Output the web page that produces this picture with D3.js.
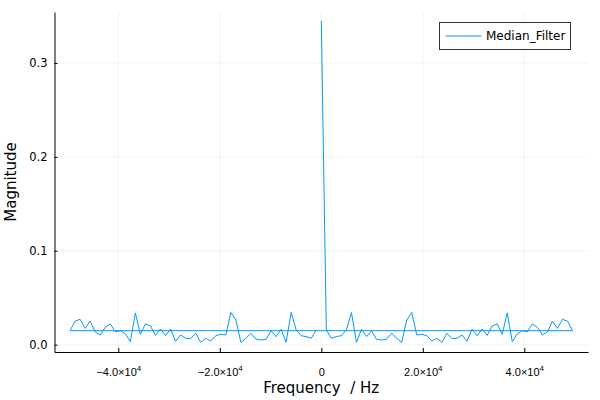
<!DOCTYPE html>
<html>
<head>
<meta charset="utf-8">
<script src="https://cdn.jsdelivr.net/npm/d3@7"></script>
<style>
  html, body { margin: 0; padding: 0; background: #fff; }
  svg { display: block; font-family: "DejaVu Sans", sans-serif; }
</style>
</head>
<body>
<svg id="chart" width="600" height="400"></svg>
<script>
// FFT-ordered frequency bins (Hz): 0, positive, then negative
const frequencies = [
  0, 990.1, 1980.2, 2970.3, 3960.4, 4950.5, 5940.6, 6930.7, 7920.8, 8910.9, 9901.0,
  10891.1, 11881.2, 12871.3, 13861.4, 14851.5, 15841.6, 16831.7, 17821.8, 18811.9, 19802.0,
  20792.1, 21782.2, 22772.3, 23762.4, 24752.5, 25742.6, 26732.7, 27722.8, 28712.9, 29703.0,
  30693.1, 31683.2, 32673.3, 33663.4, 34653.5, 35643.6, 36633.7, 37623.8, 38613.9, 39604.0,
  40594.1, 41584.2, 42574.3, 43564.4, 44554.5, 45544.6, 46534.7, 47524.8, 48514.9, 49505.0,
  -49505.0, -48514.9, -47524.8, -46534.7, -45544.6, -44554.5, -43564.4, -42574.3, -41584.2, -40594.1,
  -39604.0, -38613.9, -37623.8, -36633.7, -35643.6, -34653.5, -33663.4, -32673.3, -31683.2, -30693.1,
  -29703.0, -28712.9, -27722.8, -26732.7, -25742.6, -24752.5, -23762.4, -22772.3, -21782.2, -20792.1,
  -19802.0, -18811.9, -17821.8, -16831.7, -15841.6, -14851.5, -13861.4, -12871.3, -11881.2, -10891.1,
  -9901.0, -8910.9, -7920.8, -6930.7, -5940.6, -4950.5, -3960.4, -2970.3, -1980.2, -990.1
];
const magnitudes = [
  0.3447, 0.0157, 0.0068, 0.0086, 0.0096, 0.0157, 0.0343, 0.0025, 0.0164, 0.0086, 0.0146,
  0.0057, 0.0050, 0.0058, 0.0121, 0.0068, 0.0025, 0.0262, 0.0343, 0.0103, 0.0110,
  0.0096, 0.0039, 0.0068, 0.0025, 0.0121, 0.0064, 0.0068, 0.0103, 0.0037, 0.0167,
  0.0096, 0.0167, 0.0099, 0.0199, 0.0222, 0.0110, 0.0338, 0.0032, 0.0115, 0.0149,
  0.0137, 0.0220, 0.0185, 0.0103, 0.0136, 0.0250, 0.0174, 0.0270, 0.0250, 0.0149,
  0.0149, 0.0250, 0.0270, 0.0174, 0.0250, 0.0136, 0.0103, 0.0185, 0.0220, 0.0137,
  0.0149, 0.0115, 0.0032, 0.0338, 0.0110, 0.0222, 0.0199, 0.0099, 0.0167, 0.0096,
  0.0167, 0.0037, 0.0103, 0.0068, 0.0064, 0.0121, 0.0025, 0.0068, 0.0039, 0.0096,
  0.0110, 0.0103, 0.0343, 0.0262, 0.0025, 0.0068, 0.0121, 0.0058, 0.0050, 0.0057,
  0.0146, 0.0086, 0.0164, 0.0025, 0.0343, 0.0157, 0.0096, 0.0086, 0.0068, 0.0157
];
const seriesName = "Median_Filter";
const xTicks = [-40000, -20000, 0, 20000, 40000];
const xTickMantissa = ["\u22124.0", "\u22122.0", "0", "2.0", "4.0"];
const yTicks = [0.0, 0.1, 0.2, 0.3];
const xTitle = "Frequency  / Hz";
const yTitle = "Magnitude";

const svg = d3.select("#chart");
const L = 54.5, R = 588, T = 12, B = 352;
const x = d3.scaleLinear().domain([-52570, 52550]).range([L, R]);
const y = d3.scaleLinear().domain([-0.0078, 0.3543]).range([B, T]);

// grid
const grid = svg.append("g");
grid.selectAll("line.gx").data(xTicks).enter().append("line")
  .attr("x1", d => x(d)).attr("x2", d => x(d)).attr("y1", T).attr("y2", B)
  .attr("stroke", "#000").attr("stroke-opacity", 0.1).attr("stroke-width", 0.5);
grid.selectAll("line.gy").data(yTicks).enter().append("line")
  .attr("x1", L).attr("x2", R).attr("y1", d => y(d)).attr("y2", d => y(d))
  .attr("stroke", "#000").attr("stroke-opacity", 0.1).attr("stroke-width", 0.5);

// axes
const xAxis = d3.axisBottom(x).tickValues(xTicks).tickSizeInner(-4).tickSizeOuter(0).tickFormat("");
const gx = svg.append("g").attr("transform", `translate(0,${B})`).call(xAxis);
gx.select(".domain").attr("stroke", "#000").attr("stroke-width", 1);
gx.selectAll(".tick line").attr("stroke", "#000");
gx.selectAll(".tick").each(function(d, i) {
  const t = d3.select(this).append("text")
    .attr("y", 24).attr("fill", "#000").attr("font-size", 11).attr("text-anchor", "middle");
  if (d === 0) {
    t.text("0");
  } else {
    t.append("tspan").text(xTickMantissa[i] + "\u00d710");
    t.append("tspan").attr("dy", -5).attr("font-size", 8).text("4");
  }
});

const yAxis = d3.axisLeft(y).tickValues(yTicks).tickSizeInner(-3).tickSizeOuter(0).tickFormat(d3.format(".1f"));
const gy = svg.append("g").attr("transform", `translate(${L},0)`).call(yAxis);
gy.select(".domain").attr("stroke", "#000").attr("stroke-width", 1);
gy.selectAll(".tick line").attr("stroke", "#000");
gy.selectAll(".tick text").attr("x", -7).attr("fill", "#000").attr("font-size", 11.5).attr("font-family", "DejaVu Sans, sans-serif");

// titles
svg.append("text").attr("x", (L + R) / 2).attr("y", 393).attr("text-anchor", "middle")
  .attr("font-size", 15).attr("fill", "#000").style("white-space", "pre").text(xTitle);
svg.append("text").attr("transform", `translate(16,${(T + B) / 2}) rotate(-90)`)
  .attr("text-anchor", "middle").attr("font-size", 15).attr("fill", "#000").text(yTitle);

// series line
const pts = frequencies.map((f, i) => [f, magnitudes[i]]);
const line = d3.line().x(d => x(d[0])).y(d => y(d[1]));
svg.append("path").datum(pts).attr("d", line)
  .attr("fill", "none").attr("stroke", "#009AFA").attr("stroke-width", 1).attr("stroke-linejoin", "round");

// legend
const lg = svg.append("g");
lg.append("rect").attr("x", 439.5).attr("y", 22.5).attr("width", 131).attr("height", 27)
  .attr("fill", "#fff").attr("stroke", "#333").attr("stroke-width", 1);
lg.append("line").attr("x1", 445.5).attr("x2", 481.5).attr("y1", 36).attr("y2", 36)
  .attr("stroke", "#009AFA").attr("stroke-width", 1);
lg.append("text").attr("x", 486).attr("y", 40).attr("font-size", 12).attr("fill", "#000").text(seriesName);
</script>
</body>
</html>
